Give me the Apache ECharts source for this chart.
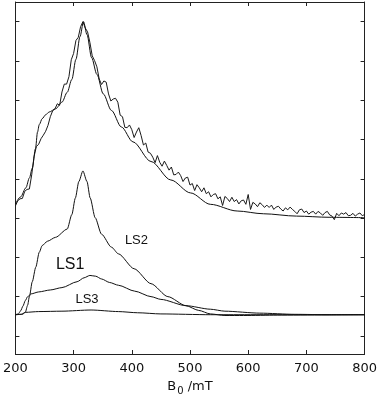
<!DOCTYPE html>
<html>
<head>
<meta charset="utf-8">
<script src="https://cdn.jsdelivr.net/npm/echarts@6/dist/echarts.min.js"></script>
<style>
html,body{margin:0;padding:0;background:#fff;}
#chart{width:380px;height:401px;}
</style>
</head>
<body>
<div id="chart"></div>
<script>
// Field axis (mT)
const xTicks = [200, 300, 400, 500, 600, 700, 800];
const yTickValues = [0, 1, 2, 3, 4, 5, 6, 7, 8];

// Measured spectrum, sampled every 4 mT from 200 to 800 mT
const measuredStart = 200;
const measuredStep = 4;
const measured = [
  3.31,3.44,3.49,3.50,3.68,3.73,3.74,4.10,4.56,4.82,4.88,5.02,5.11,5.21,5.36,5.58,
  5.73,5.78,5.91,5.87,6.21,6.41,6.41,6.60,7.03,7.19,7.52,7.60,7.87,8.00,7.84,7.74,
  7.47,7.13,7.01,6.85,6.54,6.40,6.49,6.46,6.16,5.98,6.03,6.05,5.95,5.62,5.58,5.31,
  5.30,5.37,5.25,5.05,5.19,5.30,5.10,4.86,4.91,4.68,4.65,4.55,4.41,4.59,4.42,4.32,
  4.45,4.34,4.22,4.30,4.10,4.11,4.17,4.08,3.93,4.02,4.04,3.84,3.88,3.70,3.85,3.77,
  3.67,3.77,3.62,3.67,3.54,3.60,3.62,3.49,3.54,3.32,3.55,3.50,3.42,3.53,3.42,3.47,
  3.36,3.44,3.46,3.35,3.60,3.22,3.40,3.36,3.29,3.39,3.34,3.27,3.33,3.27,3.33,3.22,
  3.28,3.30,3.23,3.18,3.26,3.21,3.28,3.22,3.17,3.11,3.21,3.23,3.14,3.18,3.10,3.15,
  3.17,3.10,3.17,3.13,3.07,3.14,3.17,3.08,3.05,2.96,3.12,3.06,3.13,3.10,3.14,3.06,
  3.07,3.12,3.05,3.10,3.13,3.06,3.09
];

// Total fit
const fitCurve = [
  [200,3.36],[209,3.54],[218,3.77],[224,4.02],[229,4.27],[234.5,4.77],[238,5.19],
  [241,5.38],[246,5.53],[252,5.63],[258,5.70],[269,5.78],[280,5.95],[289,6.20],
  [297,6.53],[304,7.04],[311,7.62],[317,8.00],[323,7.67],[331,7.08],[340,6.66],
  [351,6.16],[365,5.74],[382,5.32],[402,4.94],[433,4.44],[467,3.97],[501,3.64],
  [535,3.35],[581,3.18],[626,3.11],[683,3.05],[739,3.02],[800,3.01]
];

// Line-shape components
const ls1 = [
  [200,0.54],[205,0.56],[209,0.64],[213,0.76],[217,0.90],[221,1.00],[227,1.07],
  [240,1.12],[260,1.17],[280,1.23],[306,1.38],[318,1.48],[328,1.54],[338,1.52],
  [348,1.45],[362,1.36],[377,1.29],[405,1.14],[433,1.00],[450,0.93],[493,0.77],
  [535,0.68],[560,0.63],[620,0.58],[680,0.55],[740,0.54],[800,0.54]
];
const ls2 = [
  [200,0.54],[212,0.55],[217,0.60],[221,0.78],[224,1.00],[229,1.38],[235,1.75],
  [241,2.13],[246,2.30],[255,2.41],[269,2.51],[289,2.72],[297,3.09],[303,3.51],
  [309,3.93],[316,4.20],[323,3.93],[328.5,3.51],[337,3.01],[348,2.59],[365,2.26],
  [377,2.09],[404,1.71],[433,1.33],[462,1.00],[493,0.77],[515,0.65],[535,0.56],
  [560,0.52],[592,0.52],[650,0.53],[800,0.54]
];
const ls3 = [
  [200,0.54],[210,0.55],[217,0.60],[240,0.62],[280,0.63],[330,0.66],[377,0.62],
  [410,0.59],[450,0.56],[535,0.54],[800,0.54]
];
const componentNames = ['LS1', 'LS2', 'LS3'];

const measuredPairs = measured.map((v, i) => [measuredStart + i * measuredStep, v]);

const FONT = 'DejaVu Sans';
const chart = echarts.init(document.getElementById('chart'), null, {renderer: 'canvas'});

const axisLineStyle = {color: '#222', width: 1};
const tickStyle = {color: '#222', width: 1};

function labelPoint(name, coord, size) {
  return {
    coord: coord,
    symbol: 'circle', symbolSize: 0,
    label: {show: true, position: 'inside', formatter: name, color: '#111',
            fontFamily: 'Liberation Sans', fontSize: size}
  };
}

chart.setOption({
  animation: false,
  backgroundColor: '#fff',
  grid: {left: 12.7, right: 14.3, top: 2, bottom: 42.7, show: false},
  xAxis: [{
    type: 'value', min: 200, max: 800, interval: 100, position: 'bottom',
    axisLine: {show: true, lineStyle: axisLineStyle, onZero: false},
    axisTick: {show: true, inside: true, length: 4, lineStyle: tickStyle},
    axisLabel: {show: true, color: '#111', fontFamily: FONT, fontSize: 13, margin: 8,
                customValues: xTicks},
    splitLine: {show: false},
    name: 'B{sub|0} /mT', nameLocation: 'middle', nameGap: 24,
    nameTextStyle: {color: '#111', fontFamily: FONT, fontSize: 13,
      rich: {sub: {fontFamily: FONT, fontSize: 10, verticalAlign: 'bottom', padding: [8, 0, 0, 1], color: '#111'}}}
  }, {
    type: 'value', min: 200, max: 800, interval: 100, position: 'top',
    axisLine: {show: true, lineStyle: axisLineStyle, onZero: false},
    axisTick: {show: true, inside: true, length: 4, lineStyle: tickStyle},
    axisLabel: {show: false},
    splitLine: {show: false}
  }],
  yAxis: [{
    type: 'value', min: -0.46, max: 8.5, position: 'left',
    axisLine: {show: true, lineStyle: axisLineStyle, onZero: false},
    axisTick: {show: true, inside: true, length: 4, lineStyle: tickStyle, customValues: yTickValues},
    axisLabel: {show: false, customValues: yTickValues},
    splitLine: {show: false}
  }, {
    type: 'value', min: -0.46, max: 8.5, position: 'right',
    axisLine: {show: true, lineStyle: axisLineStyle, onZero: false},
    axisTick: {show: true, inside: true, length: 4, lineStyle: tickStyle, customValues: yTickValues},
    axisLabel: {show: false, customValues: yTickValues},
    splitLine: {show: false}
  }],
  series: [
    {name: 'measured', type: 'line', data: measuredPairs, showSymbol: false, symbol: 'none',
     lineStyle: {color: '#1a1a1a', width: 1}, smooth: false, z: 3},
    {name: 'fit', type: 'line', data: fitCurve, showSymbol: false, symbol: 'none',
     lineStyle: {color: '#111', width: 1}, smooth: 0.3, smoothMonotone: 'x', z: 4},
    {name: componentNames[0], type: 'line', data: ls1, showSymbol: false, symbol: 'none',
     lineStyle: {color: '#111', width: 1}, smooth: 0.25, smoothMonotone: 'x',
     markPoint: {data: [labelPoint('LS1', [294, 1.82], 16)]}},
    {name: componentNames[1], type: 'line', data: ls2, showSymbol: false, symbol: 'none',
     lineStyle: {color: '#111', width: 1}, smooth: 0.25, smoothMonotone: 'x',
     markPoint: {data: [labelPoint('LS2', [408, 2.43], 13)]}},
    {name: componentNames[2], type: 'line', data: ls3, showSymbol: false, symbol: 'none',
     lineStyle: {color: '#111', width: 1}, smooth: 0.25, smoothMonotone: 'x',
     markPoint: {data: [labelPoint('LS3', [323, 0.92], 13)]}}
  ]
});
</script>
</body>
</html>
